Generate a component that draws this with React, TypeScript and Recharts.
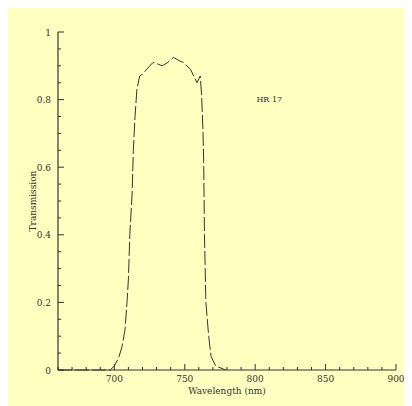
import { LineChart, Line, XAxis, YAxis, ReferenceDot, Label } from "recharts";

// HR 17 filter transmission curve
const wavelength = [
  660, 690, 697, 700, 703, 705.5, 707.6, 709, 710, 711, 712.6, 713.5, 714.7, 716, 718, 720, 723,
  727.5, 731, 734, 738, 742, 746, 749, 754, 758.7, 761, 762, 763, 763.5, 764, 764.5, 765, 766, 767,
  768.7, 772, 779,
];
const transmission = [
  0, 0, 0, 0.012, 0.035, 0.07, 0.12, 0.2, 0.27, 0.4, 0.52, 0.65, 0.75, 0.83, 0.87, 0.875, 0.89,
  0.91, 0.905, 0.9, 0.91, 0.925, 0.915, 0.91, 0.89, 0.85, 0.87, 0.81, 0.7, 0.6, 0.4, 0.3, 0.2, 0.15,
  0.1, 0.04, 0.012, 0,
];

const xTicks = [
  660, 670, 680, 690, 700, 710, 720, 730, 740, 750, 760, 770, 780, 790, 800, 810, 820, 830, 840,
  850, 860, 870, 880, 890, 900,
];
const xLabels = [700, 750, 800, 850, 900];
const yTicks = [
  0, 0.05, 0.1, 0.15, 0.2, 0.25, 0.3, 0.35, 0.4, 0.45, 0.5, 0.55, 0.6, 0.65, 0.7, 0.75, 0.8, 0.85,
  0.9, 0.95, 1,
];
const yLabels = [0, 0.2, 0.4, 0.6, 0.8, 1];

const INK = "#333";
const FONT = "'DejaVu Serif', serif";

const data = wavelength.map((w, i) => ({ w, t: transmission[i] }));

function BottomTick({ x, y, payload }: any) {
  const v = payload.value;
  const major = v % 50 === 0;
  return (
    <g>
      <line x1={x} y1={y} x2={x} y2={y - (major ? 6 : 3)} stroke={INK} />
      {xLabels.includes(v) ? (
        <text x={x} y={y + 12} textAnchor="middle" fontSize={9} fontFamily={FONT} fill={INK}>
          {v}
        </text>
      ) : null}
    </g>
  );
}

function TopTick({ x, y, payload }: any) {
  const major = payload.value % 50 === 0;
  return <line x1={x} y1={y} x2={x} y2={y + (major ? 5 : 3)} stroke={INK} />;
}

function LeftTick({ x, y, payload }: any) {
  const v = payload.value;
  const major = yLabels.includes(v);
  return (
    <g>
      <line x1={x} y1={y} x2={x + (major ? 6 : 3)} y2={y} stroke={INK} />
      {major ? (
        <text x={x - 7} y={y + 3.5} textAnchor="end" fontSize={9} fontFamily={FONT} fill={INK}>
          {v}
        </text>
      ) : null}
    </g>
  );
}

function RightTick({ x, y, payload }: any) {
  const major = yLabels.includes(payload.value);
  return <line x1={x} y1={y} x2={x - (major ? 6 : 3)} y2={y} stroke={INK} />;
}

export default function App() {
  return (
    <div style={{ width: 404, height: 399, marginTop: -1, background: "#ffffc0" }}>
      <LineChart
        width={404}
        height={399}
        data={data}
        margin={{ top: 25, right: 16, left: 0, bottom: 0 }}
      >
        <XAxis
          dataKey="w"
          type="number"
          domain={[660, 900]}
          ticks={xTicks}
          interval={0}
          height={36}
          tickSize={0}
          tickMargin={0}
          tickLine={false}
          tick={<BottomTick />}
          axisLine={{ stroke: INK, strokeWidth: 1.2 }}
          allowDataOverflow
        >
          <Label
            value="Wavelength (nm)"
            position="insideBottom"
            offset={12}
            style={{ fontSize: 9, fontFamily: FONT, fill: INK }}
          />
        </XAxis>
        <XAxis
          xAxisId="top"
          orientation="top"
          dataKey="w"
          type="number"
          domain={[660, 900]}
          ticks={xTicks}
          interval={0}
          height={0}
          tickSize={0}
          tickMargin={0}
          tickLine={false}
          tick={<TopTick />}
          axisLine={false}
          allowDataOverflow
        />
        <YAxis
          type="number"
          domain={[0, 1]}
          ticks={yTicks}
          interval={0}
          width={50}
          tickSize={0}
          tickMargin={0}
          tickLine={false}
          tick={<LeftTick />}
          axisLine={{ stroke: INK, strokeWidth: 1.2 }}
        >
          <Label
            value="Transmission"
            angle={-90}
            position="insideLeft"
            offset={25}
            style={{ fontSize: 9, fontFamily: FONT, fill: INK, textAnchor: "middle" }}
          />
        </YAxis>
        <YAxis
          yAxisId="right"
          orientation="right"
          type="number"
          domain={[0, 1]}
          ticks={yTicks}
          interval={0}
          width={0}
          tickSize={0}
          tickMargin={0}
          tickLine={false}
          tick={<RightTick />}
          axisLine={{ stroke: INK, strokeWidth: 1.2 }}
        />
        <Line
          dataKey="t"
          type="linear"
          stroke={INK}
          strokeWidth={1}
          strokeDasharray="14 3"
          dot={false}
          isAnimationActive={false}
        />
        <ReferenceDot
          x={810}
          y={0.8}
          r={0}
          fill="none"
          stroke="none"
          label={{ value: "HR 17", position: "center", fontSize: 8, fontFamily: FONT, fill: INK }}
        />
      </LineChart>
    </div>
  );
}
